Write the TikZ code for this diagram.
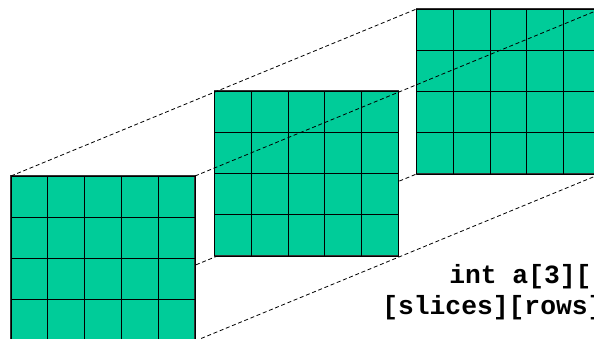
\documentclass[tikz,border=0pt]{standalone}
\usepackage{fontspec}
\newfontfamily\codefont{Liberation Mono}
\usetikzlibrary{backgrounds}
\definecolor{slabgreen}{HTML}{00CC99}

\begin{document}
\begin{tikzpicture}[x=0.75pt, y=0.75pt,
  slab/.style={draw=black!80, line width=0.9pt, fill=slabgreen, inner sep=0pt, outer sep=0pt,
    minimum width=138pt, minimum height=123.75pt, anchor=north west},
  cellgrid/.style={line width=0.7pt, xstep=27.6pt, ystep=30.9375pt},
  link/.style={dash pattern=on 3pt off 2pt, line width=0.6pt},
  code/.style={font=\codefont\bfseries\fontsize{19.75}{24}\selectfont, inner sep=0pt, anchor=base west}]

  \useasboundingbox (0,0) rectangle (594,339);

  % --- THE THREE SLICES (back to front) ---
  \node[slab] (g3) at (416.5,330) {};
  \draw[cellgrid, shift={(g3.south west)}] (0,0) grid (138pt,123.75pt);

  \node[slab] (g2) at (214.5,248) {};
  \draw[cellgrid, shift={(g2.south west)}] (0,0) grid (138pt,123.75pt);

  \node[slab] (g1) at (11,163) {};
  \draw[cellgrid, shift={(g1.south west)}] (0,0) grid (138pt,123.75pt);

  % --- DASHED EDGES OF THE BLOCK ---
  % the lower left edge runs behind the slices
  \begin{scope}[on background layer]
    \draw[link] (g1.south west) -- (g3.south west);
  \end{scope}
  \draw[link] (g1.north west) -- (g3.north west);
  \draw[link] (g1.north east) -- (g3.north east);
  \draw[link] (g1.south east) -- (g3.south east);

  % --- DECLARATION ---
  \node[code] (decl) at (449,55) {int a[3][};
  \node[code] (dims) at (382,24) {[slices][rows]};

\end{tikzpicture}
\end{document}
